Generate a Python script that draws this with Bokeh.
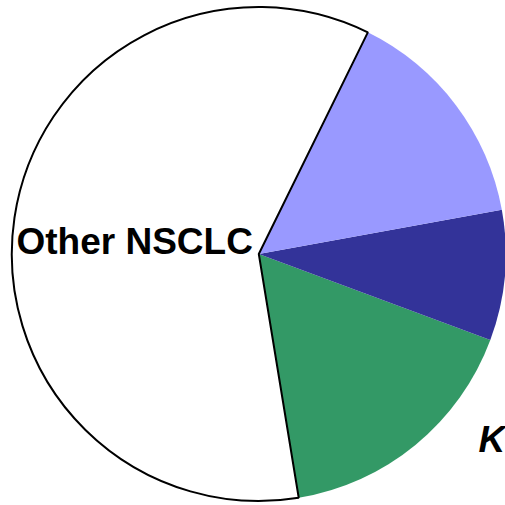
import math
from bokeh.plotting import figure
from bokeh.models import ColumnDataSource, Range1d
from bokeh.core.properties import value
from bokeh.embed import file_html
from bokeh.resources import INLINE

# Data (percent shares), listed counter-clockwise from the first wedge
categories = ["KRAS", "Other mutation B", "Other mutation A", "Other NSCLC"]
shares = [16.75, 8.53, 14.86, 59.86]
colors = ["#339966", "#333399", "#9999FF", "#FFFFFF"]

start_deg = -80.7
total = sum(shares)
starts, ends = [], []
acc = math.radians(start_deg)
for s in shares:
    starts.append(acc)
    acc += 2 * math.pi * s / total
    ends.append(acc)

W = H = 505
cx, cy = 258.3, 505 - 253.5
R = 247

p = figure(width=W, height=H, output_backend="svg", toolbar_location=None,
           x_range=Range1d(0, W), y_range=Range1d(0, H), min_border=0)
p.axis.visible = False
p.grid.visible = False
p.outline_line_color = None
p.background_fill_color = "white"
p.border_fill_color = "white"

src = ColumnDataSource(dict(start=starts, end=ends, color=colors, cat=categories,
                            line=[None, None, None, "black"]))
p.wedge(x=cx, y=cy, radius=R, start_angle="start", end_angle="end",
        fill_color="color", line_color="line", line_width=2, source=src)

# labels
p.text(x=[16], y=[H - 241], text=[categories[3]], text_font=value("Liberation Sans"),
       text_font_style="bold", text_font_size="37px", text_color="black",
       text_align="left", text_baseline="alphabetic")
p.text(x=[478], y=[H - 439], text=[categories[0]], text_font=value("Liberation Sans"),
       text_font_style="bold italic", text_font_size="37px", text_color="black",
       text_align="left", text_baseline="alphabetic")

open("out.html", "w").write(file_html(p, INLINE))
